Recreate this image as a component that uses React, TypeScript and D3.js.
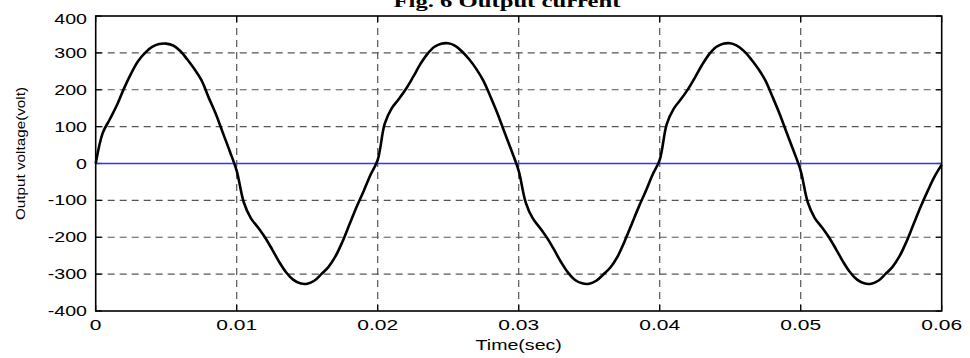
import React from "react";
import * as d3 from "d3";

// ---- data ----
const timeSec: number[] = [
  0, 0.0005, 0.001, 0.0015, 0.002, 0.0025, 0.003, 0.0035, 0.004, 0.0045,
  0.005, 0.0055, 0.006, 0.0065, 0.007, 0.0075, 0.008, 0.0085, 0.009, 0.0095,
  0.01, 0.0105, 0.011, 0.0115, 0.012, 0.0125, 0.013, 0.0135, 0.014, 0.0145,
  0.015, 0.0155, 0.016, 0.0165, 0.017, 0.0175, 0.018, 0.0185, 0.019, 0.0195,
  0.02, 0.0205, 0.021, 0.0215, 0.022, 0.0225, 0.023, 0.0235, 0.024, 0.0245,
  0.025, 0.0255, 0.026, 0.0265, 0.027, 0.0275, 0.028, 0.0285, 0.029, 0.0295,
  0.03, 0.0305, 0.031, 0.0315, 0.032, 0.0325, 0.033, 0.0335, 0.034, 0.0345,
  0.035, 0.0355, 0.036, 0.0365, 0.037, 0.0375, 0.038, 0.0385, 0.039, 0.0395,
  0.04, 0.0405, 0.041, 0.0415, 0.042, 0.0425, 0.043, 0.0435, 0.044, 0.0445,
  0.045, 0.0455, 0.046, 0.0465, 0.047, 0.0475, 0.048, 0.0485, 0.049, 0.0495,
  0.05, 0.0505, 0.051, 0.0515, 0.052, 0.0525, 0.053, 0.0535, 0.054, 0.0545,
  0.055, 0.0555, 0.056, 0.0565, 0.057, 0.0575, 0.058, 0.0585, 0.059, 0.0595,
  0.06,
];

const outputVoltage: number[] = [
  0, 83, 120, 158, 203, 243, 277, 300, 316, 324,
  325, 320, 305, 282, 256, 226, 180, 136, 85, 34,
  -20, -105, -148, -173, -200, -232, -266, -295, -315, -325,
  -326, -318, -300, -281, -252, -212, -165, -118, -75, -30,
  10, 108, 150, 175, 202, 234, 268, 296, 316, 325,
  326, 319, 303, 282, 256, 224, 181, 135, 84, 34,
  -20, -106, -149, -174, -201, -233, -267, -296, -316, -325,
  -326, -318, -301, -282, -253, -212, -166, -119, -76, -30,
  10, 107, 149, 174, 201, 233, 267, 296, 316, 325,
  326, 319, 304, 282, 256, 225, 181, 135, 84, 34,
  -20, -105, -148, -173, -200, -232, -266, -295, -315, -325,
  -326, -318, -300, -281, -252, -212, -165, -118, -75, -35,
  -3,
];

const outputCurrent: number[] = timeSec.map(() => 0);

const xTicks: number[] = [0, 0.01, 0.02, 0.03, 0.04, 0.05, 0.06];
const xTickLabels: string[] = ["0", "0.01", "0.02", "0.03", "0.04", "0.05", "0.06"];
const yTicks: number[] = [-400, -300, -200, -100, 0, 100, 200, 300, 400];

const titleText = "Fig. 6 Output current";
const xLabel = "Time(sec)";
const yLabel = "Output voltage(volt)";

export default function App() {
  const W = 970;
  const H = 358;
  const left = 95.7;
  const right = 941.7;
  const top = 16;
  const bottom = 311;

  const x = d3.scaleLinear().domain([0, 0.06]).range([left, right]);
  const y = d3.scaleLinear().domain([-400, 400]).range([bottom, top]);

  const line = d3
    .line<number>()
    .x((_, i) => x(timeSec[i]))
    .y((d) => y(d))
    .curve(d3.curveCatmullRom.alpha(0.5));

  const gridColor = "#555";
  const tickFont = "Liberation Sans, Arial, sans-serif";
  const sx = 1.4;

  return (
    <svg
      width={W}
      height={H}
      style={{ position: "absolute", left: 0, top: 0, background: "#fff" }}
    >
      <rect x={0} y={0} width={W} height={H} fill="#fff" />
      {/* grid */}
      {xTicks.slice(1, -1).map((t) => (
        <line
          key={"gx" + t}
          x1={x(t)}
          x2={x(t)}
          y1={top}
          y2={bottom}
          stroke={gridColor}
          strokeWidth={1.2}
          strokeDasharray="7,5"
        />
      ))}
      {yTicks.slice(1, -1).map((v) => (
        <line
          key={"gy" + v}
          x1={left}
          x2={right}
          y1={y(v)}
          y2={y(v)}
          stroke={gridColor}
          strokeWidth={1.2}
          strokeDasharray="7,5"
        />
      ))}
      {/* tick marks inside on all sides */}
      {xTicks.map((t) => (
        <g key={"tx" + t}>
          <line x1={x(t)} x2={x(t)} y1={bottom} y2={bottom - 6} stroke="#000" strokeWidth={1.2} />
          <line x1={x(t)} x2={x(t)} y1={top} y2={top + 6} stroke="#000" strokeWidth={1.2} />
        </g>
      ))}
      {yTicks.map((v) => (
        <g key={"ty" + v}>
          <line x1={left} x2={left + 6} y1={y(v)} y2={y(v)} stroke="#000" strokeWidth={1.2} />
          <line x1={right} x2={right - 6} y1={y(v)} y2={y(v)} stroke="#000" strokeWidth={1.2} />
        </g>
      ))}
      {/* series */}
      <path
        d={line(outputCurrent) || ""}
        fill="none"
        stroke="#3333ff"
        strokeWidth={1.3}
      />
      <path
        d={line(outputVoltage) || ""}
        fill="none"
        stroke="#000"
        strokeWidth={2.6}
        strokeLinejoin="round"
      />
      {/* axes box */}
      <rect
        x={left}
        y={top}
        width={right - left}
        height={bottom - top}
        fill="none"
        stroke="#000"
        strokeWidth={1.6}
      />
      {/* x tick labels */}
      {xTicks.map((t, i) => (
        <text
          key={"xl" + t}
          transform={`translate(${x(t)},330) scale(${sx},1)`}
          textAnchor="middle"
          fontFamily={tickFont}
          fontSize={15}
          fill="#000"
        >
          {xTickLabels[i]}
        </text>
      ))}
      {/* y tick labels */}
      {yTicks.map((v) => (
        <text
          key={"yl" + v}
          transform={`translate(87,${y(v) + (v === 400 ? 8 : 5)}) scale(${sx},1)`}
          textAnchor="end"
          fontFamily={tickFont}
          fontSize={14}
          fill="#000"
        >
          {v}
        </text>
      ))}
      {/* axis labels */}
      <text
        transform={`translate(${(left + right) / 2},350) scale(${sx},1)`}
        textAnchor="middle"
        fontFamily={tickFont}
        fontSize={14}
        fill="#000"
      >
        {xLabel}
      </text>
      <text
        transform={`translate(25,153.5) rotate(-90)`}
        textAnchor="middle"
        fontFamily={tickFont}
        fontSize={13}
        textLength={133}
        lengthAdjust="spacingAndGlyphs"
        fill="#000"
      >
        {yLabel}
      </text>
      {/* title (clipped at the top in the reference) */}
      <text
        x={507}
        y={7}
        textAnchor="middle"
        fontFamily="Liberation Serif, Times New Roman, serif"
        fontWeight="bold"
        fontSize={17}
        textLength={227}
        lengthAdjust="spacingAndGlyphs"
        fill="#000"
      >
        {titleText}
      </text>
    </svg>
  );
}
